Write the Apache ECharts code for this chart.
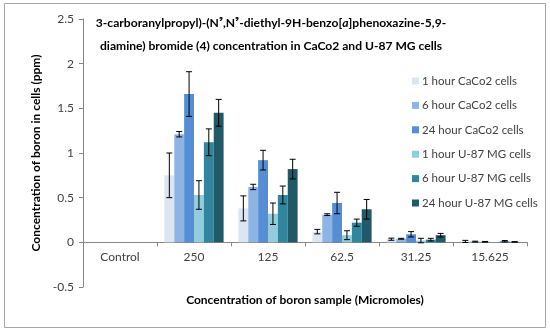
<!DOCTYPE html>
<html><head><meta charset="utf-8">
<script src="https://cdn.jsdelivr.net/npm/echarts@6/dist/echarts.min.js"></script>
<style>html,body{margin:0;padding:0;background:#fff}#c{width:550px;height:334px}</style>
</head><body><div id="c"></div>
<script>
const categories = ['Control', '250', '125', '62.5', '31.25', '15.625'];
const seriesNames = ['1 hour CaCo2 cells', '6 hour CaCo2 cells', '24 hour CaCo2 cells',
  '1 hour U-87 MG cells', '6 hour U-87 MG cells', '24 hour U-87 MG cells'];
const h1Caco = [0, 0.75, 0.38, 0.12, 0.035, 0.01];
const h1CacoErr = [0, 0.25, 0.14, 0.025, 0.012, 0.012];
const h6Caco = [0, 1.21, 0.62, 0.31, 0.04, 0.008];
const h6CacoErr = [0, 0.03, 0.03, 0.01, 0.005, 0.005];
const h24Caco = [0, 1.66, 0.92, 0.44, 0.09, 0.006];
const h24CacoErr = [0, 0.25, 0.11, 0.12, 0.03, 0.004];
const h1U87 = [0, 0.53, 0.32, 0.08, 0.02, 0];
const h1U87Err = [0, 0.16, 0.12, 0.05, 0.025, 0];
const h6U87 = [0, 1.12, 0.53, 0.22, 0.03, 0.012];
const h6U87Err = [0, 0.15, 0.10, 0.04, 0.015, 0.008];
const h24U87 = [0, 1.45, 0.82, 0.37, 0.08, 0.005];
const h24U87Err = [0, 0.15, 0.11, 0.11, 0.02, 0.003];
const yTicks = [-0.5, 0, 0.5, 1, 1.5, 2, 2.5];

const values = [h1Caco, h6Caco, h24Caco, h1U87, h6U87, h24U87];
const errors = [h1CacoErr, h6CacoErr, h24CacoErr, h1U87Err, h6U87Err, h24U87Err];
const colors = ['#DCE6F2', '#8EB4E3', '#558ED5', '#93CDDD', '#31859C', '#215968'];
const FONT = 'Lato';
const nSeries = values.length;
const groupFrac = 0.8;

const series = [];
values.forEach((vals, i) => {
  series.push({
    name: seriesNames[i], type: 'bar', data: vals,
    barGap: '0%', barCategoryGap: '20%',
    itemStyle: { color: colors[i] }
  });
});
values.forEach((vals, i) => {
  series.push({
    type: 'custom', silent: true, z: 10,
    data: vals.map((v, k) => [k, v, errors[i][k]]),
    encode: { x: 0, y: 1 },
    renderItem: function (params, api) {
      const x = api.value(0), v = api.value(1), e = api.value(2);
      if (!e) return;
      const band = api.size([1, 0])[0];
      const barW = band * groupFrac / nSeries;
      const c = api.coord([x, v]);
      const cx = c[0] - band * groupFrac / 2 + (i + 0.5) * barW;
      const top = api.coord([x, v + e])[1];
      const bot = api.coord([x, v - e])[1];
      const hw = 3;
      const st = { stroke: '#000', lineWidth: 1 };
      return { type: 'group', children: [
        { type: 'line', shape: { x1: cx, y1: top, x2: cx, y2: bot }, style: st },
        { type: 'line', shape: { x1: cx - hw, y1: top, x2: cx + hw, y2: top }, style: st },
        { type: 'line', shape: { x1: cx - hw, y1: bot, x2: cx + hw, y2: bot }, style: st }
      ]};
    }
  });
});

const chart = echarts.init(document.getElementById('c'));
chart.setOption({
  animation: false,
  backgroundColor: '#fff',
  graphic: [{ type: 'rect', shape: { x: 4.5, y: 3.5, width: 541, height: 324 },
    style: { fill: 'none', stroke: '#a6a6a6', lineWidth: 1 } }],
  title: {
    left: 266, top: 7, textAlign: 'center',
    text: '{b|3-carboranylpropyl)-(N⁹,N⁹-diethyl-9H-benzo[}{i|a}{b|]phenoxazine-5,9-}\n{b|diamine) bromide (4) concentration in CaCo2 and U-87 MG cells}',
    textStyle: {
      rich: {
        b: { fontFamily: FONT, fontWeight: 'bold', fontSize: 12.1, color: '#000', lineHeight: 23 },
        i: { fontFamily: FONT, fontWeight: 'bold', fontStyle: 'italic', fontSize: 12.1, color: '#000', lineHeight: 23 }
      }
    }
  },
  legend: {
    orient: 'vertical', left: 407, top: 70,
    itemWidth: 7, itemHeight: 7, itemGap: 12.4,
    icon: 'rect',
    data: seriesNames,
    textStyle: { fontFamily: FONT, fontSize: 11.5, color: '#404040', padding: [0, 0, 0, -2] }
  },
  grid: { left: 83, right: 23, top: 19, bottom: 47, containLabel: false, outerBoundsMode: 'none' },
  xAxis: {
    type: 'category', data: categories,
    name: 'Concentration of boron sample (Micromoles)',
    nameLocation: 'middle', nameGap: 7,
    nameTextStyle: { fontFamily: FONT, fontWeight: 'bold', fontSize: 12, color: '#000' },
    axisLine: { onZero: true, lineStyle: { color: '#868686' } },
    axisTick: { show: true, length: 4, lineStyle: { color: '#868686' } },
    axisLabel: { fontFamily: FONT, fontSize: 12, color: '#404040', margin: -36 }
  },
  yAxis: {
    type: 'value', min: yTicks[0], max: yTicks[yTicks.length - 1], interval: 0.5,
    name: 'Concentration of boron in cells (ppm)',
    nameLocation: 'middle', nameGap: 40, nameRotate: 90,
    nameTextStyle: { fontFamily: FONT, fontWeight: 'bold', fontSize: 12, color: '#000' },
    axisLine: { show: true, lineStyle: { color: '#868686' } },
    axisTick: { show: true, length: 4, lineStyle: { color: '#868686' } },
    splitLine: { show: false },
    axisLabel: { fontFamily: FONT, fontSize: 12, color: '#404040', margin: 9 }
  },
  series: series
});
</script></body></html>
